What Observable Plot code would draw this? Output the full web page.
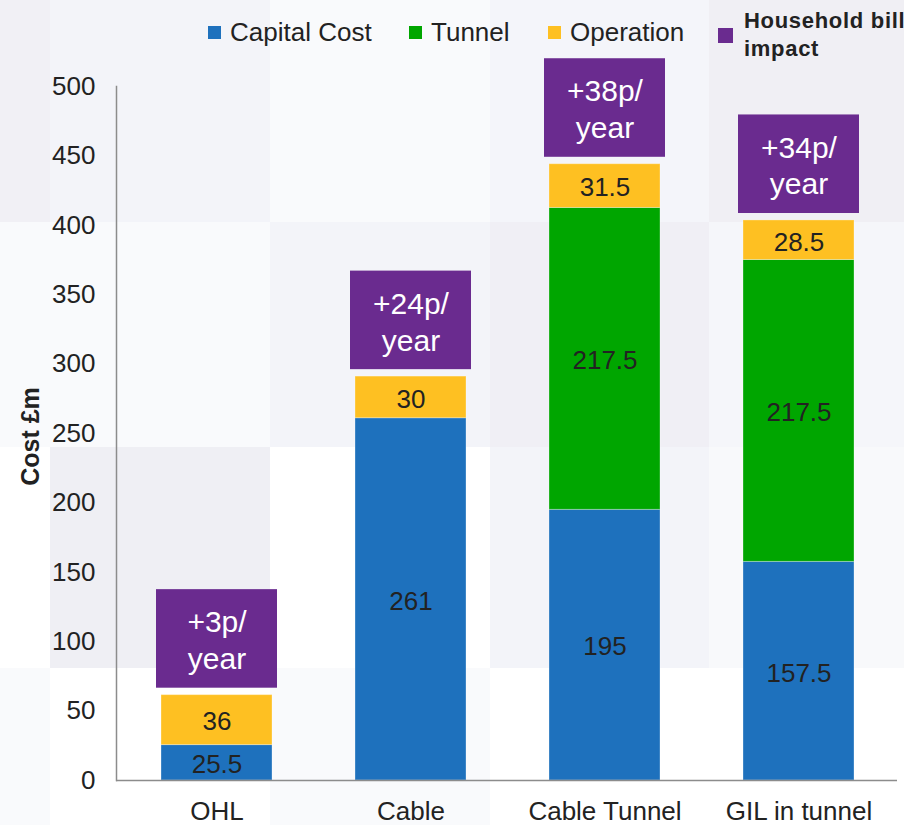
<!DOCTYPE html>
<html><head><meta charset="utf-8">
<script src="https://cdn.jsdelivr.net/npm/d3@7"></script>
<script src="https://cdn.jsdelivr.net/npm/@observablehq/plot@0.6"></script>
<style>
html,body{margin:0;padding:0;background:#fff;overflow:hidden}
#wrap{position:relative;width:904px;height:825px;overflow:hidden;font-family:"Liberation Sans",Arial,sans-serif}
.bg{position:absolute}
.item{position:absolute;display:flex;align-items:center;font-size:26px;line-height:26px;height:26px;color:#222;white-space:nowrap}
.sw{width:13px;height:13px;margin-right:9px;flex:none}
.bold{position:absolute;font-weight:bold;font-size:22px;line-height:28px;letter-spacing:0.7px;color:#222;white-space:pre}
#chart{position:absolute;left:0;top:0}
</style></head><body><div id="wrap"></div>
<script>
// ---- data ----
const categories = ["OHL", "Cable", "Cable Tunnel", "GIL in tunnel"];
const series = ["Capital Cost", "Tunnel", "Operation"];
const capitalCost = [25.5, 261, 195, 157.5];
const tunnel = [0, 0, 217.5, 217.5];
const operation = [36, 30, 31.5, 28.5];
const billImpactPence = [3, 24, 38, 34];
const impactLegend = "Household bill\nimpact";
const yTicks = [0, 50, 100, 150, 200, 250, 300, 350, 400, 450, 500];
const seriesColors = ["#1e71bd", "#00a600", "#fec022"];
const impactColor = "#6a2b8f";

// ---- background panels (decoration) ----
const wrap = document.getElementById("wrap");
const colEdges = [0, 50, 270, 490, 709, 904];
const rowEdges = [0, 222, 447, 668, 825];
const bgColors = [
  ["#f1f0f5", "#f3f4f9", "#f9fafc", "#f4f5fa", "#f0eff4"],
  ["#f9fafc", "#f9fafc", "#f3f4f9", "#f0eff5", "#f5f6fa"],
  ["#ffffff", "#efeff4", "#ffffff", "#f3f4f9", "#f8f9fb"],
  ["#f9fafc", "#ffffff", "#f9fafc", "#ffffff", "#ffffff"]
];
bgColors.forEach((row, r) => row.forEach((c, k) => {
  const d = document.createElement("div");
  d.className = "bg";
  d.style.left = colEdges[k] + "px";
  d.style.top = rowEdges[r] + "px";
  d.style.width = (colEdges[k + 1] - colEdges[k]) + "px";
  d.style.height = (rowEdges[r + 1] - rowEdges[r]) + "px";
  d.style.background = c;
  wrap.appendChild(d);
}));

// ---- chart ----
const segments = [];
categories.forEach((cat, i) => {
  [capitalCost, tunnel, operation].forEach((arr, s) => {
    segments.push({category: cat, series: series[s], value: arr[i]});
  });
});
const boxes = categories.map((cat, i) => ({
  category: cat,
  total: capitalCost[i] + tunnel[i] + operation[i],
  pence: billImpactPence[i]
}));

const chart = Plot.plot({
  width: 904,
  height: 825,
  marginTop: 86,
  marginBottom: 45,
  marginLeft: 116,
  marginRight: 7,
  style: {background: "transparent", fontFamily: "'Liberation Sans', Arial, sans-serif", fontSize: "26px", color: "#222"},
  x: {domain: categories, range: [117.7, 896.4], paddingInner: 0.43, paddingOuter: 0.215, label: null, tickSize: 0, tickPadding: 21},
  y: {domain: [0, 500], ticks: yTicks, label: null, tickSize: 0, tickPadding: 21},
  color: {domain: series, range: seriesColors},
  marks: [
    Plot.barY(segments, {x: "category", y: "value", fill: "series", order: series, stroke: "white", strokeOpacity: 0.3, strokeWidth: 1}),
    Plot.text(segments.filter(d => d.value > 0), Plot.stackY({x: "category", y: "value", z: "series", order: series, text: d => String(d.value), fontSize: 26, fill: "#222", dy: 2})),
    Plot.barY(boxes, {x: "category", y1: d => d.total + 5, y2: d => d.total + 76, fill: impactColor, insetLeft: -5, insetRight: -5}),
    Plot.text(boxes, {x: "category", y: d => d.total + 40.5, text: d => `+${d.pence}p/\nyear`, fill: "white", fontSize: 30, lineHeight: 1.23, lineAnchor: "middle"}),
    Plot.ruleY([0], {stroke: "#8c8c8c", strokeWidth: 1.5}),
    Plot.frame({anchor: "left", stroke: "#8c8c8c", strokeWidth: 1.5}),
    Plot.text(["Cost £m"], {frameAnchor: "left", dx: -86, dy: 3, rotate: -90, textAnchor: "middle", text: d => d, fontWeight: "bold", fontSize: 25, fill: "#222"})
  ]
});
chart.id = "chart";
wrap.appendChild(chart);

// ---- legend (HTML, over the top of the chart) ----
const legendPos = [208, 409, 548];
series.forEach((s, i) => {
  const it = document.createElement("div");
  it.className = "item";
  it.style.left = legendPos[i] + "px";
  it.style.top = "19px";
  const sw = document.createElement("span");
  sw.className = "sw";
  sw.style.background = seriesColors[i];
  it.appendChild(sw);
  it.appendChild(document.createTextNode(s));
  wrap.appendChild(it);
});
const psw = document.createElement("div");
psw.style.cssText = `position:absolute;left:718px;top:28px;width:15px;height:15px;background:${impactColor}`;
wrap.appendChild(psw);
const pl = document.createElement("div");
pl.className = "bold";
pl.style.left = "744px";
pl.style.top = "7px";
pl.textContent = impactLegend;
wrap.appendChild(pl);
</script>
</body></html>
